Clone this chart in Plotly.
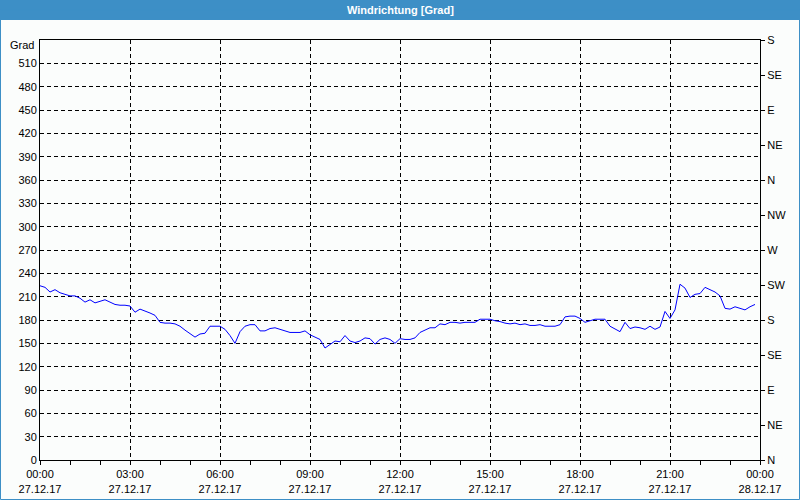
import plotly.graph_objects as go
import pandas as pd

# Wind direction readings, every 10 minutes on 27.12.17
times = pd.date_range("2017-12-27 00:00", periods=144, freq="10min")
direction = [
    224, 222, 216, 219, 215, 213, 211, 211, 208, 203, 206, 202,
    204, 206, 203, 200, 199, 199, 198, 190, 194, 192, 189, 186,
    177, 176, 176, 175, 172, 167, 162, 158, 162, 163, 172, 172,
    172, 168, 160, 150, 165, 172, 174, 174, 166, 166, 169, 170,
    168, 167, 164, 164, 164, 166, 161, 158, 155, 144, 149, 153,
    152, 160, 153, 151, 153, 157, 156, 149, 155, 157, 155, 150,
    156, 155, 155, 157, 164, 167, 170, 170, 175, 174, 177, 177,
    176, 177, 177, 177, 181, 181, 181, 179, 178, 176, 175, 176,
    174, 175, 173, 173, 174, 172, 172, 172, 174, 184, 185, 185,
    182, 177, 179, 181, 181, 181, 172, 169, 165, 177, 169, 171,
    170, 168, 172, 168, 171, 191, 182, 193, 226, 221, 209, 213,
    214, 222, 219, 216, 211, 195, 194, 197, 195, 193, 197, 200,
]

x_tickvals = ["2017-12-27 00:00", "2017-12-27 03:00", "2017-12-27 06:00",
              "2017-12-27 09:00", "2017-12-27 12:00", "2017-12-27 15:00",
              "2017-12-27 18:00", "2017-12-27 21:00", "2017-12-28 00:00"]
x_ticktext = ["00:00<br>27.12.17", "03:00<br>27.12.17", "06:00<br>27.12.17",
              "09:00<br>27.12.17", "12:00<br>27.12.17", "15:00<br>27.12.17",
              "18:00<br>27.12.17", "21:00<br>27.12.17", "00:00<br>28.12.17"]
y_tickvals = list(range(0, 511, 30))
y2_tickvals = list(range(0, 541, 45))
y2_ticktext = ["N", "NE", "E", "SE", "S", "SW", "W", "NW", "N", "NE", "E", "SE", "S"]

BLUE_BAR = "#3d8fc6"
BG = "#fbfdfc"
FONT = dict(family="Liberation Sans, Arial, sans-serif", size=11, color="#000000")

fig = go.Figure()
fig.add_trace(go.Scatter(x=times, y=direction, mode="lines",
                         line=dict(color="#0000ff", width=1),
                         showlegend=False, hoverinfo="x+y"))
fig.add_trace(go.Scatter(x=[times[0]], y=[None], yaxis="y2", mode="lines",
                         showlegend=False, hoverinfo="skip"))

fig.update_layout(
    width=800, height=500,
    margin=dict(l=40, r=40, t=40, b=40, autoexpand=False),
    paper_bgcolor=BG, plot_bgcolor=BG,
    font=FONT,
    xaxis=dict(
        type="date", automargin=False,
        range=["2017-12-27 00:00", "2017-12-28 00:00"],
        tickvals=x_tickvals, ticktext=x_ticktext,
        ticks="outside", ticklen=4, tickcolor="#000",
        minor=dict(dtick=3600000, ticks="outside", ticklen=4, tickcolor="#000", showgrid=False),
        showgrid=True, gridcolor="#000000", griddash="4px,3px", gridwidth=1,
        showline=True, linecolor="#000000", linewidth=1, mirror=True,
        zeroline=False, tickfont=FONT,
    ),
    yaxis=dict(
        range=[0, 540], tickvals=y_tickvals, automargin=False,
        showgrid=True, gridcolor="#000000", griddash="4px,3px", gridwidth=1,
        showline=True, linecolor="#000000", linewidth=1,
        zeroline=False, ticks="", tickfont=FONT,
    ),
    yaxis2=dict(
        range=[0, 540], overlaying="y", side="right", automargin=False,
        tickvals=y2_tickvals, ticktext=y2_ticktext,
        ticks="outside", ticklen=4, tickcolor="#000",
        showgrid=False, showline=True, linecolor="#000000", linewidth=1,
        zeroline=False, tickfont=FONT,
    ),
    shapes=[
        dict(type="rect", xref="paper", yref="paper",
             x0=-40 / 720, x1=760 / 720, y0=440 / 420, y1=460 / 420,
             fillcolor=BLUE_BAR, line=dict(width=0), layer="below"),
        dict(type="rect", xref="paper", yref="paper",
             x0=-39.5 / 720, x1=759.5 / 720, y0=-39.5 / 420, y1=450 / 420,
             fillcolor="rgba(0,0,0,0)", line=dict(color=BLUE_BAR, width=1), layer="below"),
    ],
    annotations=[
        dict(text="<b>Windrichtung [Grad]</b>", xref="paper", yref="paper",
             x=0.5, y=450 / 420, xanchor="center", yanchor="middle", showarrow=False,
             font=dict(family="Liberation Sans, Arial, sans-serif", size=11, color="#ffffff")),
        dict(text="Grad", xref="paper", yref="paper",
             x=-4 / 720, y=(460 - 45) / 420, xanchor="right", yanchor="middle",
             showarrow=False, font=FONT),
    ],
)

fig.write_html("out.html")
